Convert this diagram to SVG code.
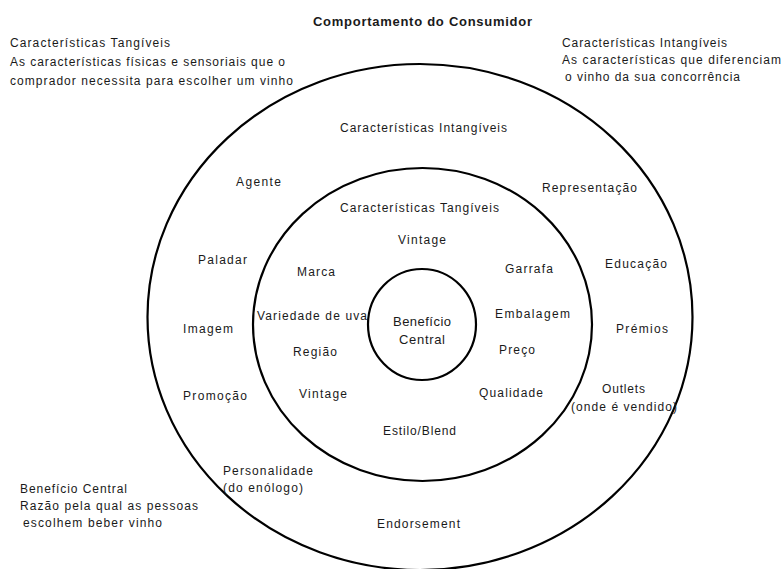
<svg xmlns="http://www.w3.org/2000/svg" width="782" height="569" viewBox="0 0 782 569">
  <style>
    .ring { fill: none; stroke: #000; stroke-width: 2.2; }
    text { font-family: "Liberation Sans", Arial, sans-serif; font-size: 12px; fill: #1a1a1a; }
    .title { font-weight: bold; font-size: 13px; }
    .core { font-size: 13px; }
  </style>
  <rect width="782" height="569" fill="#fff"/>

  <!-- concentric product levels -->
  <g id="ring-outer"><ellipse class="ring" cx="420" cy="317" rx="272.5" ry="253"/></g>
  <g id="ring-middle"><ellipse class="ring" cx="422.5" cy="324.5" rx="169.5" ry="156.5"/></g>
  <g id="ring-core"><ellipse class="ring" cx="422" cy="324.5" rx="54" ry="55.5"/></g>

  <!-- heading -->
  <g id="title"><text class="title" x="313" y="26" textLength="219" lengthAdjust="spacing">Comportamento do Consumidor</text></g>

  <!-- legend notes -->
  <g id="note-tangible">
    <text x="10" y="47" textLength="160" lengthAdjust="spacing">Características Tangíveis</text>
    <text x="10" y="66" textLength="275" lengthAdjust="spacing">As características físicas e sensoriais que o</text>
    <text x="10" y="85" textLength="283" lengthAdjust="spacing">comprador necessita para escolher um vinho</text>
  </g>
  <g id="note-intangible">
    <text x="562" y="47" textLength="165" lengthAdjust="spacing">Características Intangíveis</text>
    <text x="562" y="64" textLength="219" lengthAdjust="spacing">As características que  diferenciam</text>
    <text x="565" y="81" textLength="175" lengthAdjust="spacing">o vinho da sua concorrência</text>
  </g>
  <g id="note-core">
    <text x="20" y="493" textLength="107" lengthAdjust="spacing">Benefício Central</text>
    <text x="20" y="510" textLength="178" lengthAdjust="spacing">Razão pela qual as pessoas</text>
    <text x="23" y="527" textLength="139" lengthAdjust="spacing">escolhem beber vinho</text>
  </g>

  <!-- outer ring: intangible characteristics -->
  <g id="label-intangiveis"><text x="340" y="132" textLength="167" lengthAdjust="spacing">Características Intangíveis</text></g>
  <g id="label-agente"><text x="236" y="186" textLength="45" lengthAdjust="spacing">Agente</text></g>
  <g id="label-representacao"><text x="542" y="192" textLength="95" lengthAdjust="spacing">Representação</text></g>
  <g id="label-educacao"><text x="605" y="268" textLength="62" lengthAdjust="spacing">Educação</text></g>
  <g id="label-paladar"><text x="198" y="264" textLength="49" lengthAdjust="spacing">Paladar</text></g>
  <g id="label-imagem"><text x="183" y="333" textLength="50" lengthAdjust="spacing">Imagem</text></g>
  <g id="label-premios"><text x="616" y="333" textLength="52" lengthAdjust="spacing">Prémios</text></g>
  <g id="label-promocao"><text x="183" y="400" textLength="64" lengthAdjust="spacing">Promoção</text></g>
  <g id="label-outlets">
    <text x="602" y="393" textLength="43" lengthAdjust="spacing">Outlets</text>
    <text x="571" y="411" textLength="106" lengthAdjust="spacing">(onde é vendido)</text>
  </g>
  <g id="label-personalidade">
    <text x="223" y="475" textLength="90" lengthAdjust="spacing">Personalidade</text>
    <text x="223" y="492" textLength="80" lengthAdjust="spacing">(do enólogo)</text>
  </g>
  <g id="label-endorsement"><text x="377" y="528" textLength="83" lengthAdjust="spacing">Endorsement</text></g>

  <!-- middle ring: tangible characteristics -->
  <g id="label-tangiveis"><text x="340" y="212" textLength="159" lengthAdjust="spacing">Características Tangíveis</text></g>
  <g id="label-vintage-top"><text x="398" y="244" textLength="48" lengthAdjust="spacing">Vintage</text></g>
  <g id="label-garrafa"><text x="505" y="273" textLength="48" lengthAdjust="spacing">Garrafa</text></g>
  <g id="label-marca"><text x="297" y="276" textLength="38" lengthAdjust="spacing">Marca</text></g>
  <g id="label-variedade"><text x="257" y="320" textLength="110" lengthAdjust="spacing">Variedade de uva</text></g>
  <g id="label-embalagem"><text x="495" y="318" textLength="75" lengthAdjust="spacing">Embalagem</text></g>
  <g id="label-regiao"><text x="293" y="356" textLength="44" lengthAdjust="spacing">Região</text></g>
  <g id="label-preco"><text x="499" y="354" textLength="36" lengthAdjust="spacing">Preço</text></g>
  <g id="label-vintage-bottom"><text x="299" y="398" textLength="48" lengthAdjust="spacing">Vintage</text></g>
  <g id="label-qualidade"><text x="479" y="397" textLength="64" lengthAdjust="spacing">Qualidade</text></g>
  <g id="label-estilo"><text x="383" y="435" textLength="73" lengthAdjust="spacing">Estilo/Blend</text></g>

  <!-- core -->
  <g id="label-beneficio">
    <text class="core" x="393" y="326" textLength="58" lengthAdjust="spacing">Benefício</text>
    <text class="core" x="399" y="344" textLength="46" lengthAdjust="spacing">Central</text>
  </g>
</svg>
